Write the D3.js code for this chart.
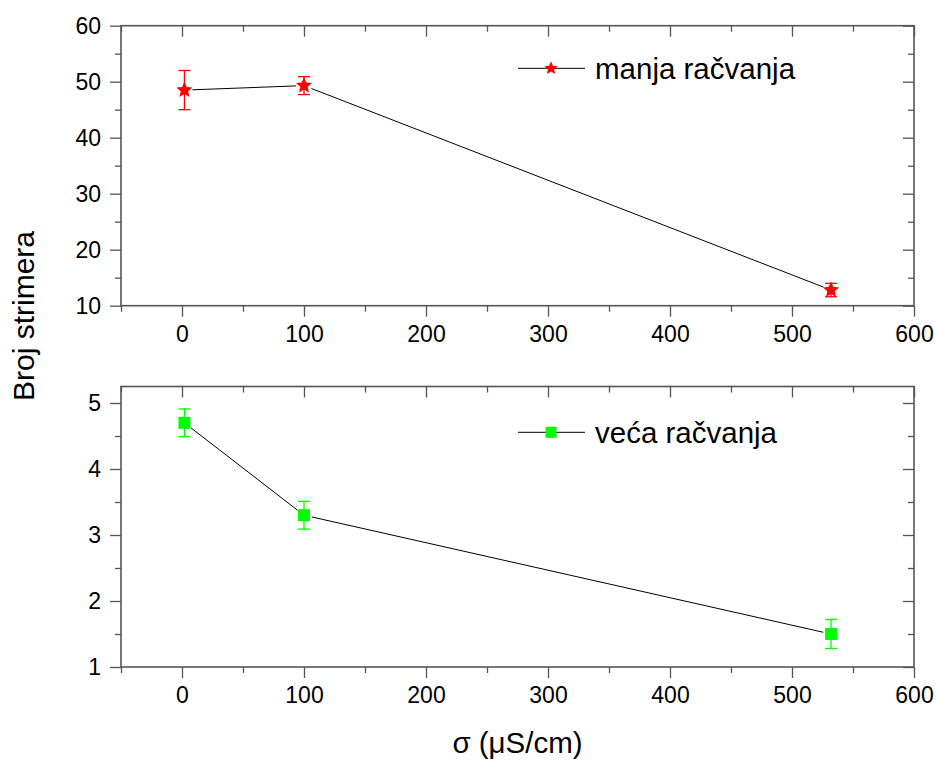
<!DOCTYPE html>
<html>
<head>
<meta charset="utf-8">
<script src="https://cdn.jsdelivr.net/npm/d3@7/dist/d3.min.js"></script>
<style>
  html, body { margin: 0; padding: 0; background: #fff; }
  svg { display: block; font-family: "Liberation Sans", Arial, sans-serif; }
</style>
</head>
<body>
<svg id="chart" width="936" height="760"></svg>
<script>
// ---- data ----
const xValues = [2, 100, 532];
const manjaValues = [48.5, 49.3, 12.8];
const manjaErrors = [3.5, 1.6, 1.2];
const vecaValues = [4.7, 3.3, 1.5];
const vecaErrors = [0.21, 0.21, 0.22];
const xTicks = [0, 100, 200, 300, 400, 500, 600];
const xMinorTicks = [-50, 50, 150, 250, 350, 450, 550];
const topYTicks = [10, 20, 30, 40, 50, 60];
const topYMinorTicks = [15, 25, 35, 45, 55];
const bottomYTicks = [1, 2, 3, 4, 5];
const bottomYMinorTicks = [1.5, 2.5, 3.5, 4.5];
const labelTop = "manja račvanja";
const labelBottom = "veća račvanja";
const yTitle = "Broj strimera";
const xTitle = "σ (μS/cm)";

const svg = d3.select("#chart");
const left = 121, right = 914;
const x = d3.scaleLinear().domain([-50, 600]).range([left, right]);

const axisColor = "#555";
const tickFont = 23;

// fatter five-pointed star symbol (size = outer radius squared)
const fatStar = {
  draw(context, size) {
    const r = Math.sqrt(size), ri = r * 0.46;
    for (let i = 0; i < 10; i++) {
      const a = -Math.PI / 2 + i * Math.PI / 5;
      const rr = i % 2 === 0 ? r : ri;
      const px = rr * Math.cos(a), py = rr * Math.sin(a);
      if (i === 0) context.moveTo(px, py); else context.lineTo(px, py);
    }
    context.closePath();
  }
};

function panel(cfg) {
  const y = d3.scaleLinear().domain(cfg.yDomain).range([cfg.bottom, cfg.top]);
  const g = svg.append("g");
  const major = 11, minor = 6;

  g.append("g").attr("transform", `translate(0,${cfg.bottom})`)
    .call(d3.axisBottom(x).tickValues(xTicks).tickSize(major).tickPadding(9).tickFormat(d3.format("d")));
  g.append("g").attr("transform", `translate(0,${cfg.bottom})`)
    .call(d3.axisBottom(x).tickValues(xMinorTicks).tickSize(minor).tickFormat(""));
  g.append("g").attr("transform", `translate(0,${cfg.top})`)
    .call(d3.axisBottom(x).tickValues(xTicks).tickSize(major).tickFormat(""));
  g.append("g").attr("transform", `translate(0,${cfg.top})`)
    .call(d3.axisBottom(x).tickValues(xMinorTicks).tickSize(minor).tickFormat(""));
  g.append("g").attr("transform", `translate(${left},0)`)
    .call(d3.axisLeft(y).tickValues(cfg.yTicks).tickSize(major).tickPadding(9).tickFormat(d3.format("d")));
  g.append("g").attr("transform", `translate(${left},0)`)
    .call(d3.axisLeft(y).tickValues(cfg.yMinor).tickSize(minor).tickFormat(""));
  g.append("g").attr("transform", `translate(${right},0)`)
    .call(d3.axisLeft(y).tickValues(cfg.yTicks).tickSize(major).tickFormat(""));
  g.append("g").attr("transform", `translate(${right},0)`)
    .call(d3.axisLeft(y).tickValues(cfg.yMinor).tickSize(minor).tickFormat(""));

  g.selectAll(".domain").remove();
  g.selectAll(".tick line").attr("stroke", axisColor).attr("stroke-width", 1.3);
  g.selectAll(".tick text").attr("font-size", tickFont).attr("fill", "#000")
    .attr("font-family", "Liberation Sans, Arial, sans-serif");

  g.append("rect").attr("x", left).attr("y", cfg.top)
    .attr("width", right - left).attr("height", cfg.bottom - cfg.top)
    .attr("fill", "none").attr("stroke", axisColor).attr("stroke-width", 1.6);

  const pts = xValues.map((xv, i) => [x(xv), y(cfg.values[i])]);
  const gap = 8;
  for (let i = 0; i < pts.length - 1; i++) {
    const [x0, y0] = pts[i], [x1, y1] = pts[i + 1];
    const len = Math.hypot(x1 - x0, y1 - y0);
    const ux = (x1 - x0) / len, uy = (y1 - y0) / len;
    g.append("line")
      .attr("x1", x0 + ux * gap).attr("y1", y0 + uy * gap)
      .attr("x2", x1 - ux * gap).attr("y2", y1 - uy * gap)
      .attr("stroke", "#000").attr("stroke-width", 1);
  }

  const eb = g.append("g").attr("stroke", cfg.color).attr("stroke-width", 1.3);
  xValues.forEach((xv, i) => {
    const cx = x(xv), v = cfg.values[i], e = cfg.errors[i];
    const yt = y(v + e), yb = y(v - e);
    eb.append("line").attr("x1", cx).attr("x2", cx).attr("y1", yt).attr("y2", yb);
    eb.append("line").attr("x1", cx - 6).attr("x2", cx + 6).attr("y1", yt).attr("y2", yt);
    eb.append("line").attr("x1", cx - 6).attr("x2", cx + 6).attr("y1", yb).attr("y2", yb);
  });

  g.selectAll("path.marker").data(xValues).enter().append("path")
    .attr("class", "marker")
    .attr("d", d3.symbol().type(cfg.symbol).size(cfg.symSize))
    .attr("transform", (d, i) => `translate(${x(d)},${y(cfg.values[i])})`)
    .attr("fill", cfg.color);

  const lg = g.append("g");
  lg.append("line").attr("x1", 518).attr("x2", 585).attr("y1", cfg.legY).attr("y2", cfg.legY)
    .attr("stroke", "#000").attr("stroke-width", 1);
  lg.append("path").attr("d", d3.symbol().type(cfg.symbol).size(cfg.legSymSize))
    .attr("transform", `translate(551,${cfg.legY})`).attr("fill", cfg.color);
  lg.append("text").attr("x", 595).attr("y", cfg.legY + 11)
    .attr("font-size", 29.5).attr("fill", "#000").text(cfg.label);
}

panel({
  top: 25.7, bottom: 305.7, yDomain: [10, 60],
  yTicks: topYTicks, yMinor: topYMinorTicks,
  values: manjaValues, errors: manjaErrors,
  color: "#ff0000", symbol: fatStar, symSize: 72, legSymSize: 49,
  legY: 68.3, label: labelTop
});

panel({
  top: 386.5, bottom: 667, yDomain: [1, 5.25],
  yTicks: bottomYTicks, yMinor: bottomYMinorTicks,
  values: vecaValues, errors: vecaErrors,
  color: "#00ff00", symbol: d3.symbolSquare, symSize: 144, legSymSize: 121,
  legY: 432.3, label: labelBottom
});

svg.append("text")
  .attr("transform", "translate(34,316) rotate(-90)")
  .attr("text-anchor", "middle").attr("font-size", 30).attr("fill", "#000")
  .text(yTitle);
svg.append("text")
  .attr("x", (left + right) / 2).attr("y", 753)
  .attr("text-anchor", "middle").attr("font-size", 29.5).attr("fill", "#000")
  .text(xTitle);
</script>
</body>
</html>
